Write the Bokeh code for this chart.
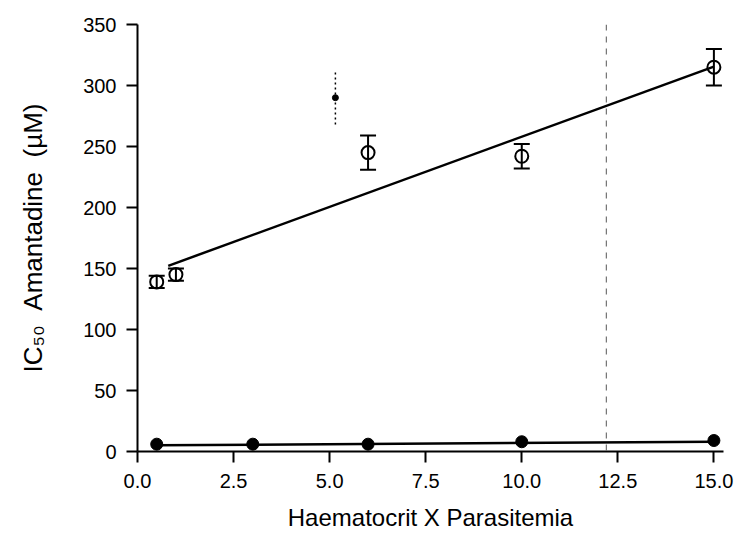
from bokeh.plotting import figure
from bokeh.models import Range1d, Whisker, ColumnDataSource, Span, FixedTicker, NumeralTickFormatter, TeeHead
from bokeh.embed import file_html
from bokeh.resources import INLINE

# Upper series (open circles)
x_hi = [0.5, 1.0, 6.0, 10.0, 15.0]
y_hi = [139, 145, 245, 242, 315]
err_hi = [5, 5, 14, 10, 15]
fit_hi = [143.0, 11.5]   # intercept, slope
fit_hi_range = [0.8, 15.0]

# Lower series (filled circles)
x_lo = [0.5, 3.0, 6.0, 10.0, 15.0]
y_lo = [6, 6, 6, 8, 9]
fit_lo = [5.0, 0.2]
fit_lo_range = [0.5, 15.0]

# stray mark in scan
x_stray = [5.15]
y_stray = [290]
err_stray = [22]

x_ticks = [0, 2.5, 5, 7.5, 10, 12.5, 15]
y_ticks = [0, 50, 100, 150, 200, 250, 300, 350]
fold_x = 12.2

FONT = "Liberation Sans"
NB = "\u00a0"

p = figure(width=736, height=540, output_backend="svg", toolbar_location=None,
           x_range=Range1d(0, 15.25), y_range=Range1d(0, 350),
           min_border_left=137, min_border_right=13, min_border_top=24, min_border_bottom=89)
p.outline_line_color = None
p.xgrid.visible = False
p.ygrid.visible = False
p.background_fill_color = "white"
p.border_fill_color = "white"

for ax in (p.xaxis[0], p.yaxis[0]):
    ax.axis_line_color = "black"
    ax.axis_line_width = 2
    ax.major_tick_line_color = "black"
    ax.major_tick_line_width = 2
    ax.minor_tick_line_color = None
    ax.major_label_text_font = FONT
    ax.major_label_text_font_size = "20px"
    ax.major_label_text_color = "black"
    ax.axis_label_text_font = FONT
    ax.axis_label_text_font_style = "normal"
    ax.axis_label_text_color = "black"
    ax.major_tick_in = 0
    ax.major_tick_out = 11

p.xaxis.ticker = FixedTicker(ticks=x_ticks)
p.xaxis.formatter = NumeralTickFormatter(format="0.0")
p.xaxis.major_label_standoff = 11
p.xaxis.axis_label = "Haematocrit X Parasitemia"
p.xaxis.axis_label_text_font_size = "24px"
p.xaxis.axis_label_standoff = 13

p.yaxis.ticker = FixedTicker(ticks=y_ticks)
p.yaxis.major_label_standoff = 10
p.yaxis.axis_label = "IC\u2085\u2080" + NB * 2 + "Amantadine" + NB * 2 + "(\u00b5M)"
p.yaxis.axis_label_text_font_size = "26px"
p.yaxis.axis_label_standoff = 32

# fold artifact
p.add_layout(Span(location=fold_x, dimension="height", line_color="#555555",
                  line_dash="6 6", line_width=1))

# regression lines
p.line(fit_hi_range, [fit_hi[0] + fit_hi[1] * x for x in fit_hi_range],
       line_color="black", line_width=2.5)
p.line(fit_lo_range, [fit_lo[0] + fit_lo[1] * x for x in fit_lo_range],
       line_color="black", line_width=2.5)

# upper points with error bars
src_hi = ColumnDataSource(dict(x=x_hi, y=y_hi,
                               lo=[y - e for y, e in zip(y_hi, err_hi)],
                               hi=[y + e for y, e in zip(y_hi, err_hi)]))
p.add_layout(Whisker(source=src_hi, base="x", lower="lo", upper="hi",
                     line_color="black", line_width=2,
                     upper_head=TeeHead(size=16, line_width=2, line_color="black"),
                     lower_head=TeeHead(size=16, line_width=2, line_color="black")))
p.scatter("x", "y", source=src_hi, marker="circle", size=13, fill_color=None,
          line_color="black", line_width=2)

# lower points
p.scatter(x_lo, y_lo, marker="circle", size=12, fill_color="black",
          line_color="black", line_width=1)

# stray mark
src_st = ColumnDataSource(dict(x=x_stray, y=y_stray,
                               lo=[y - e for y, e in zip(y_stray, err_stray)],
                               hi=[y + e for y, e in zip(y_stray, err_stray)]))
p.segment(x0="x", y0="lo", x1="x", y1="hi", source=src_st, line_color="black",
          line_width=1.5, line_dash="2 3")
p.scatter("x", "y", source=src_st, marker="circle", size=6, fill_color="black",
          line_color="black")

open("out.html", "w").write(file_html(p, INLINE))
